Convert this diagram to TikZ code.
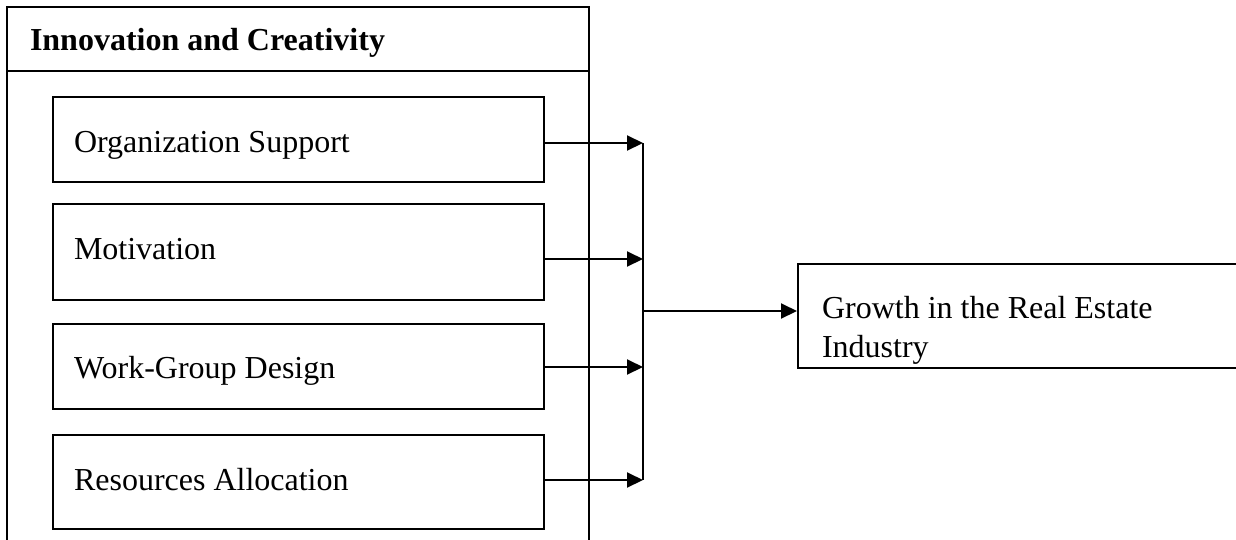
\documentclass[tikz,border=0pt]{standalone}
\usepackage{fontspec}
\setmainfont{Liberation Serif}
\usetikzlibrary{arrows.meta}
\begin{document}
\begin{tikzpicture}[x=1pt,y=-1pt,
  line width=2pt,
  frame/.style={draw=black,line width=2pt},
  itembox/.style={draw=black,line width=2pt,minimum width=491pt,minimum height=#1,inner sep=0pt,anchor=north west},
  lbl/.style={font=\fontsize{32}{38}\selectfont,inner sep=0pt,anchor=base west},
  ttl/.style={font=\fontsize{32}{38}\selectfont\bfseries,inner sep=0pt,anchor=base west},
  arr/.style={-{Triangle[length=16pt,width=15pt]},line width=2pt}]
\useasboundingbox (0,0) rectangle (1236,539);
\begin{scope}
\clip (0,0) rectangle (1236,539);
% outer frame (open at the bottom)
\draw[frame] (7,545) -- (7,7) -- (589,7) -- (589,545);
\draw[frame] (7,71) -- (589,71);
\node[ttl] (title) at (29,50) {Innovation and Creativity};
% inner boxes
\node[itembox=85pt] (b1) at (52,96) {};
\node[itembox=96pt] (b2) at (52,203) {};
\node[itembox=85pt] (b3) at (52,323) {};
\node[itembox=94pt] (b4) at (52,434) {};
\node[lbl] (t1) at (73,152) {Organization Support};
\node[lbl] (t2) at (73,259) {Motivation};
\node[lbl] (t3) at (73,378) {Work-Group Design};
\node[lbl] (t4) at (73,490) {Resources Allocation};
% bus coordinates
\coordinate (j1) at (643,143);
\coordinate (j2) at (643,259);
\coordinate (j3) at (643,367);
\coordinate (j4) at (643,480);
\coordinate (jm) at (643,311);
\draw[arr] (b1.east |- j1) -- (j1);
\draw[arr] (b2.east |- j2) -- (j2);
\draw[arr] (b3.east |- j3) -- (j3);
\draw[arr] (b4.east |- j4) -- (j4);
\draw[line width=2pt] (j1) -- (j4);
% outcome box (cut at right edge)
\node[draw=black,line width=2pt,minimum width=450pt,minimum height=104pt,inner sep=0pt,anchor=north west] (g) at (797,263) {};
\begin{scope}
\clip (797,263) rectangle (1236,366);
\node[lbl] (gt1) at (821,318) {Growth in the Real Estate};
\node[lbl] (gt2) at (821,357) {Industry};
\end{scope}
\draw[arr] (jm) -- (jm -| g.west);
\end{scope}
\end{tikzpicture}
\end{document}
